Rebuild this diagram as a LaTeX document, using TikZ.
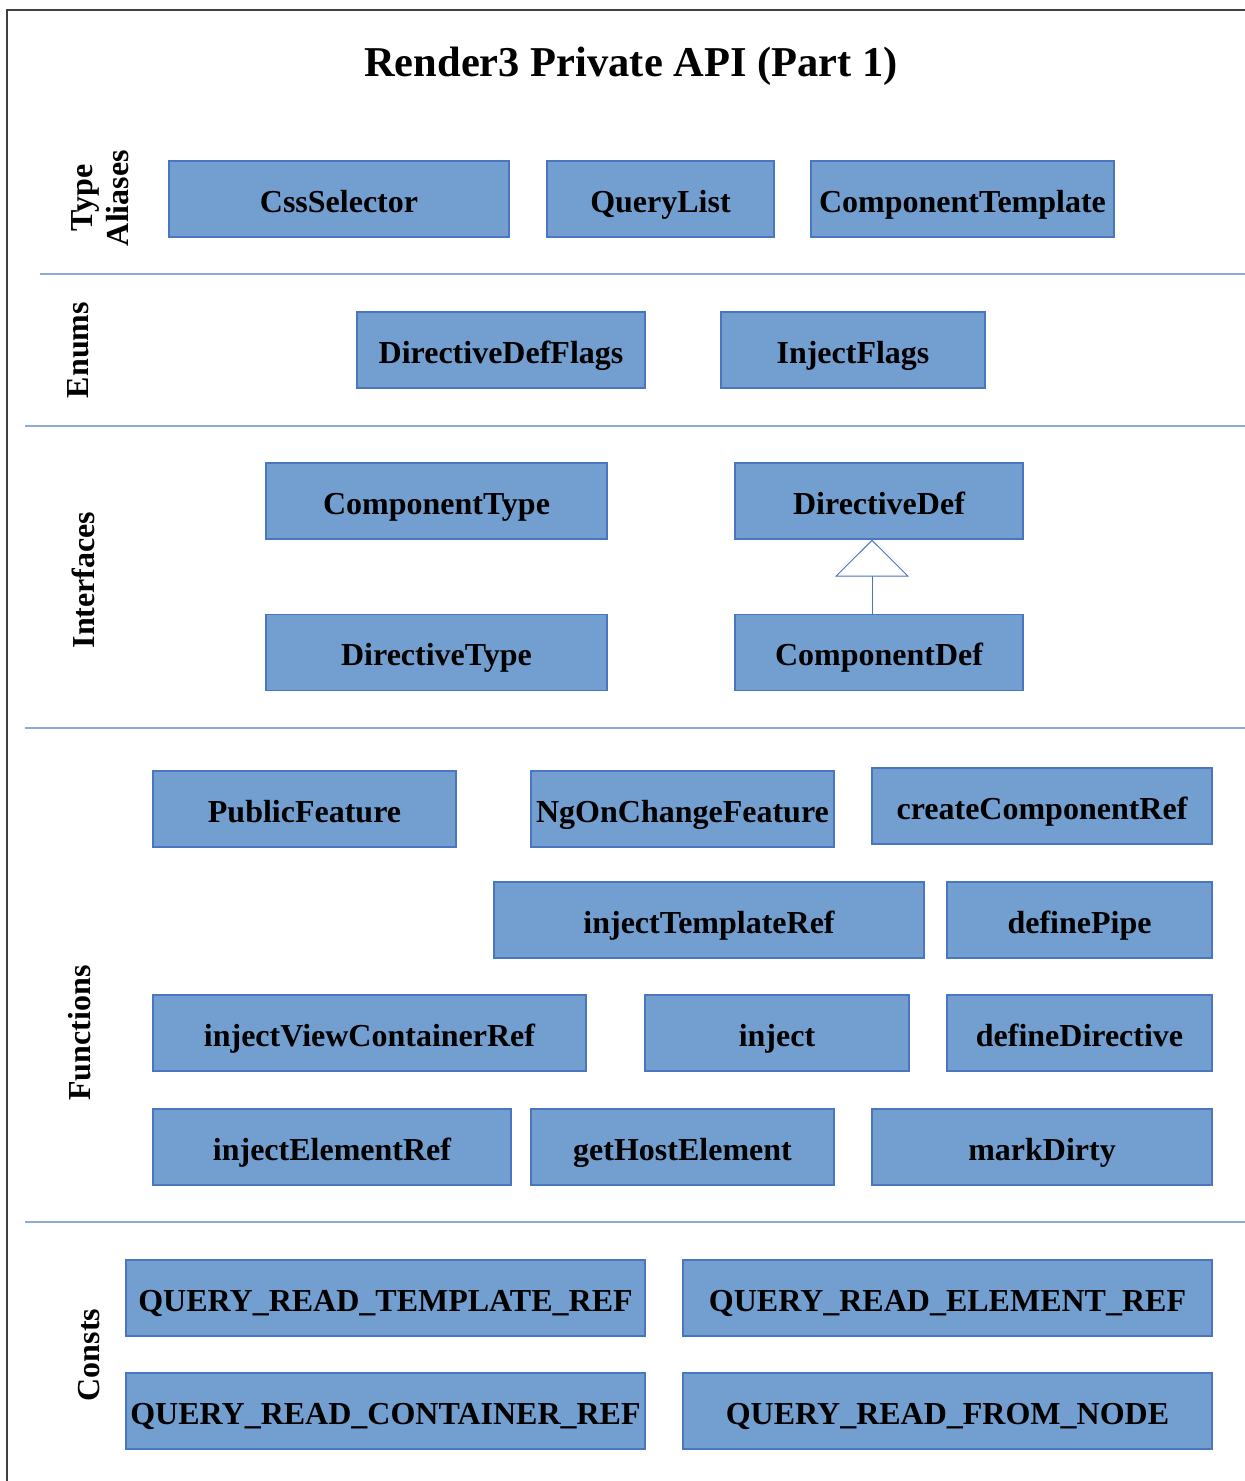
\documentclass[tikz,border=0pt]{standalone}
\usepackage{fontspec}
\setmainfont{Liberation Serif}
\usetikzlibrary{arrows.meta}
\definecolor{boxfill}{HTML}{729FCF}
\definecolor{boxedge}{HTML}{4A76C0}
\definecolor{sepline}{HTML}{8EAADB}
\definecolor{framec}{HTML}{404040}
\tikzset{
  box/.style={draw=boxedge, line width=1.2pt, fill=boxfill, minimum height=76pt, inner sep=0pt,
    text height=30pt, text depth=4pt,
    font=\fontsize{32}{36}\selectfont\bfseries, text=black},
  sep/.style={draw=sepline, line width=1.5pt},
  lane/.style={rotate=90, align=center, font=\fontsize{32}{36}\selectfont\bfseries, inner sep=0pt},
  inherit/.style={draw=boxedge, line width=1pt, -{Triangle[open, length=37pt, width=74pt, fill=white]}}
}
\begin{document}
\begin{tikzpicture}[x=1pt, y=-1pt]
\useasboundingbox (0,0) rectangle (1245,1481);
\draw[framec, line width=1.3pt] (1250,10) -- (7,10) -- (7,1490);
\node[font=\fontsize{42.5}{48}\selectfont\bfseries, anchor=base, inner sep=0pt] (title) at (631,76) {Render3 Private API (Part 1)};

% separators
\coordinate (s1a) at (40,274); \coordinate (s1b) at (1250,274);
\coordinate (s2a) at (25,426); \coordinate (s2b) at (1250,426);
\coordinate (s3a) at (25,728); \coordinate (s3b) at (1250,728);
\coordinate (s4a) at (25,1222); \coordinate (s4b) at (1250,1222);
\draw[sep] (s1a) -- (s1b);
\draw[sep] (s2a) -- (s2b);
\draw[sep] (s3a) -- (s3b);
\draw[sep] (s4a) -- (s4b);

% lane labels
\node[lane] (lta) at (100,198) {Type\\Aliases};
\node[lane] (len) at (78,350) {Enums};
\node[lane] (lif) at (83,580) {Interfaces};
\node[lane] (lfn) at (80,1033) {Functions};
\node[lane] (lco) at (89,1355) {Consts};

% type aliases
\node[box, minimum width=340pt] (css) at (339,199) {CssSelector};
\node[box, minimum width=227pt] (ql) at (660.5,199) {QueryList};
\node[box, minimum width=303pt] (ctpl) at (962.5,199) {ComponentTemplate};
% enums
\node[box, minimum width=288pt] (ddf) at (501,350) {DirectiveDefFlags};
\node[box, minimum width=264pt] (ifl) at (853,350) {InjectFlags};
% interfaces
\node[box, minimum width=341pt] (cty) at (436.5,501) {ComponentType};
\node[box, minimum width=288pt] (dd) at (879,501) {DirectiveDef};
\node[box, minimum width=341pt] (dty) at (436.5,652.5) {DirectiveType};
\node[box, minimum width=288pt] (cd) at (879,652.5) {ComponentDef};
\draw[inherit] ([xshift=-7pt]cd.north) -- ([xshift=-7pt]dd.south);
% functions
\node[box, minimum width=303pt] (pf) at (304.5,809) {PublicFeature};
\node[box, minimum width=303pt] (ngo) at (682.5,809) {NgOnChangeFeature};
\node[box, minimum width=340pt] (ccr) at (1042,806) {createComponentRef};
\node[box, minimum width=430pt] (itr) at (709,920) {injectTemplateRef};
\node[box, minimum width=265pt] (dp) at (1079.5,920) {definePipe};
\node[box, minimum width=433pt] (ivcr) at (369.5,1033) {injectViewContainerRef};
\node[box, minimum width=264pt] (inj) at (777,1033) {inject};
\node[box, minimum width=265pt] (ddir) at (1079.5,1033) {defineDirective};
\node[box, minimum width=358pt] (ier) at (332,1147) {injectElementRef};
\node[box, minimum width=303pt] (ghe) at (682.5,1147) {getHostElement};
\node[box, minimum width=340pt] (md) at (1042,1147) {markDirty};
% consts
\node[box, minimum width=519pt] (q1) at (385.5,1298) {QUERY\_READ\_TEMPLATE\_REF};
\node[box, minimum width=529pt] (q2) at (947.5,1298) {QUERY\_READ\_ELEMENT\_REF};
\node[box, minimum width=519pt] (q3) at (385.5,1411) {QUERY\_READ\_CONTAINER\_REF};
\node[box, minimum width=529pt] (q4) at (947.5,1411) {QUERY\_READ\_FROM\_NODE};
\end{tikzpicture}
\end{document}
